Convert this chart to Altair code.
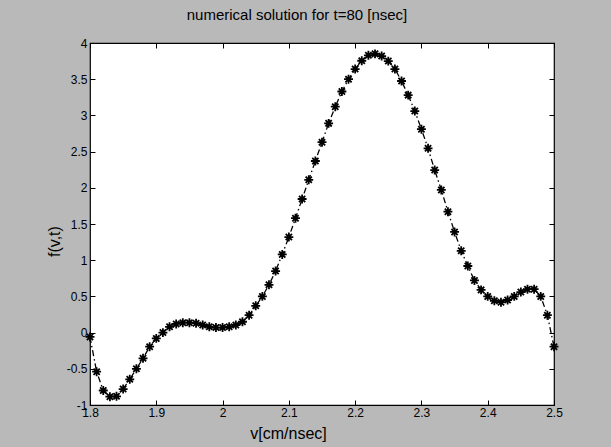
import altair as alt
import pandas as pd

v = [1.80, 1.81, 1.82, 1.83, 1.84, 1.85, 1.86, 1.87, 1.88, 1.89,
     1.90, 1.91, 1.92, 1.93, 1.94, 1.95, 1.96, 1.97, 1.98, 1.99,
     2.00, 2.01, 2.02, 2.03, 2.04, 2.05, 2.06, 2.07, 2.08, 2.09,
     2.10, 2.11, 2.12, 2.13, 2.14, 2.15, 2.16, 2.17, 2.18, 2.19,
     2.20, 2.21, 2.22, 2.23, 2.24, 2.25, 2.26, 2.27, 2.28, 2.29,
     2.30, 2.31, 2.32, 2.33, 2.34, 2.35, 2.36, 2.37, 2.38, 2.39,
     2.40, 2.41, 2.42, 2.43, 2.44, 2.45, 2.46, 2.47, 2.48, 2.49,
     2.50]
f = [-0.06, -0.54, -0.80, -0.885, -0.88, -0.78, -0.645, -0.50, -0.355, -0.195,
     -0.08, 0.00, 0.08, 0.12, 0.137, 0.137, 0.13, 0.105, 0.08, 0.07,
     0.07, 0.08, 0.105, 0.15, 0.24, 0.37, 0.50, 0.66, 0.85, 1.08,
     1.32, 1.58, 1.845, 2.11, 2.37, 2.63, 2.89, 3.12, 3.33, 3.50,
     3.64, 3.755, 3.83, 3.85, 3.82, 3.75, 3.64, 3.475, 3.28, 3.06,
     2.81, 2.545, 2.245, 1.97, 1.67, 1.39, 1.13, 0.92, 0.72, 0.59,
     0.50, 0.44, 0.42, 0.45, 0.50, 0.56, 0.60, 0.60, 0.50, 0.24,
     -0.195]

x_ticks = [1.8, 1.9, 2, 2.1, 2.2, 2.3, 2.4, 2.5]
y_ticks = [-1, -0.5, 0, 0.5, 1, 1.5, 2, 2.5, 3, 3.5, 4]

df = pd.DataFrame({"v": v, "f": f})

FONT = "Liberation Sans"
xs = alt.Scale(domain=[1.8, 2.5], nice=False, zero=False)
ys = alt.Scale(domain=[-1, 4], nice=False, zero=False)

lab_expr = "'' + datum.value"

x_main = alt.X("v:Q", scale=xs, axis=alt.Axis(
    values=x_ticks, tickCount=30, labelExpr=lab_expr, orient="bottom", offset=-5, tickSize=5,
    domain=False, grid=False, tickColor="black", labelColor="black",
    labelFont=FONT, labelFontSize=12, labelPadding=2, labelFlush=False,
    labelOverlap=False, labelBound=False,
    title="v[cm/nsec]", titleFont=FONT, titleFontSize=16, titleFontWeight="normal",
    titleColor="black", titlePadding=7, titleX=198))
y_main = alt.Y("f:Q", scale=ys, axis=alt.Axis(
    values=y_ticks, tickCount=30, labelExpr=lab_expr, orient="left", offset=-5, tickSize=5,
    domain=False, grid=False, tickColor="black", labelColor="black",
    labelFont=FONT, labelFontSize=12, labelPadding=3, labelFlush=False,
    labelOverlap=False, labelBound=False,
    title="f(v,t)", titleFont=FONT, titleFontSize=16, titleFontWeight="normal",
    titleColor="black", titlePadding=4, titleY=198))

base = alt.Chart(df)

line = base.mark_line(color="black", strokeWidth=1.3, strokeDash=[6, 3, 1.5, 3]).encode(
    x=x_main, y=y_main)

star = "M0,-1L0,1M-1,0L1,0M-0.7,-0.7L0.7,0.7M-0.7,0.7L0.7,-0.7"
pts = base.mark_point(shape=star, stroke="black", strokeWidth=1.8, size=80,
                      filled=False, opacity=1).encode(x="v:Q", y="f:Q")

main = alt.layer(line, pts)

ticks_tr = base.mark_point(opacity=0).encode(
    x=alt.X("v:Q", scale=xs, axis=alt.Axis(
        values=x_ticks, tickCount=30, orient="top", offset=-5, tickSize=5, labels=False,
        domain=False, grid=False, tickColor="black", title=None)),
    y=alt.Y("f:Q", scale=ys, axis=alt.Axis(
        values=y_ticks, tickCount=30, orient="right", offset=-5, tickSize=5, labels=False,
        domain=False, grid=False, tickColor="black", title=None)))

chart = alt.layer(main, ticks_tr).resolve_scale(
    x="independent", y="independent"
).properties(
    width=464, height=362,
    title=alt.TitleParams("numerical solution for t=80 [nsec]", font=FONT,
                          fontSize=15, fontWeight="normal", color="black",
                          offset=14, dx=-25),
    autosize=alt.AutoSizeParams(type="none"),
    padding={"left": 90, "top": 43, "right": 57, "bottom": 42},
    background="#b9b9b9",
).configure_view(
    fill="white", stroke="black", strokeWidth=1.2
)

chart.save("out.html", embed_options={"renderer": "svg", "actions": False})
